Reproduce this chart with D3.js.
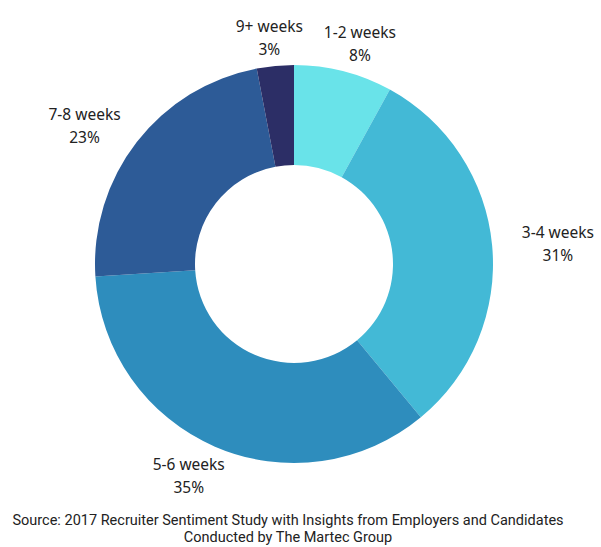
<!DOCTYPE html>
<html>
<head>
<meta charset="utf-8">
<script src="https://cdn.jsdelivr.net/npm/d3@7"></script>
<style>
  html, body { margin: 0; padding: 0; background: #ffffff; }
  svg { display: block; }
</style>
</head>
<body>
<svg id="chart" width="601" height="547"></svg>
<script>
// Time-to-hire buckets and their share of responses (%)
const categories = ["1-2 weeks", "3-4 weeks", "5-6 weeks", "7-8 weeks", "9+ weeks"];
const shares = [8, 31, 35, 23, 3];
const shareLabels = ["8%", "31%", "35%", "23%", "3%"];
const sliceColors = ["#69e3e9", "#43b9d6", "#2e8dbd", "#2d5b97", "#2c2e66"];
const sourceLines = [
  "Source: 2017 Recruiter Sentiment Study with Insights from Employers and Candidates",
  "Conducted by The Martec Group"
];

const svg = d3.select("#chart");
const cx = 294, cy = 264;
const outerR = 199, innerR = 99;

const data = categories.map((c, i) => ({ cat: c, value: shares[i], label: shareLabels[i], color: sliceColors[i] }));

const pie = d3.pie().value(d => d.value).sort(null);
const arc = d3.arc().innerRadius(innerR).outerRadius(outerR);
const arcs = pie(data);

const g = svg.append("g").attr("transform", `translate(${cx},${cy})`);

g.selectAll("path.slice")
  .data(arcs)
  .join("path")
  .attr("class", "slice")
  .attr("d", arc)
  .attr("fill", d => d.data.color);

// Two-line labels outside each slice, pushed sideways by half their width
const labelFont = "'Noto Sans', 'Open Sans', sans-serif";
const labelR = outerR + 30;
const labels = g.selectAll("g.lbl")
  .data(arcs)
  .join("g")
  .attr("class", "lbl");

labels.each(function(d) {
  const sel = d3.select(this);
  const t1 = sel.append("text")
    .attr("text-anchor", "middle")
    .attr("font-family", labelFont)
    .attr("font-size", 15.5)
    .attr("fill", "#222222")
    .attr("y", -4)
    .text(d.data.cat);
  sel.append("text")
    .attr("text-anchor", "middle")
    .attr("font-family", labelFont)
    .attr("font-size", 15.5)
    .attr("fill", "#222222")
    .attr("y", 19)
    .text(d.data.label);
  const w = t1.node().getComputedTextLength();
  const a = (d.startAngle + d.endAngle) / 2;
  const x = Math.sin(a) * labelR + Math.sin(a) * w / 2;
  const y = -Math.cos(a) * labelR;
  sel.attr("transform", `translate(${x},${y})`);
});

// Source note
svg.append("g")
  .selectAll("text")
  .data(sourceLines)
  .join("text")
  .attr("x", 288)
  .attr("y", (d, i) => 525 + i * 17)
  .attr("text-anchor", "middle")
  .attr("font-family", "Roboto, sans-serif")
  .attr("font-size", 14.5)
  .attr("fill", "#222222")
  .text(d => d);
</script>
</body>
</html>
